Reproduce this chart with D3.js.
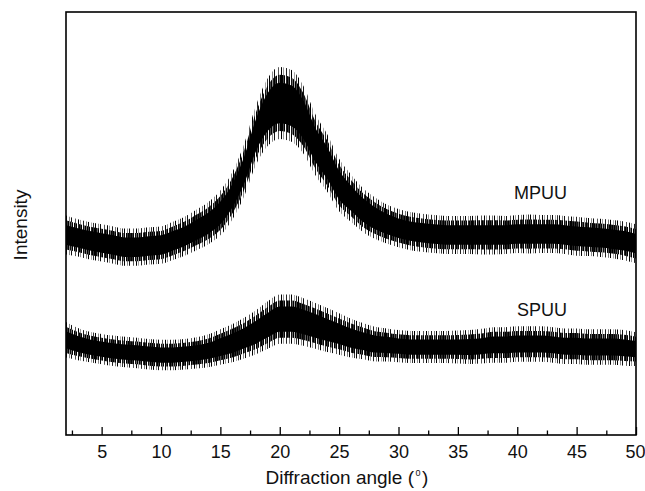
<!DOCTYPE html>
<html>
<head>
<meta charset="utf-8">
<script src="https://cdn.jsdelivr.net/npm/d3@7"></script>
<style>
  html, body { margin: 0; padding: 0; background: #fff; }
  svg { display: block; }
</style>
</head>
<body>
<svg id="chart"></svg>
<script>
// diffraction angle grid (degrees)
const angles = [2, 3, 4, 5, 6, 7, 8, 9, 10, 11, 12, 13, 14, 15, 16, 17, 18, 19, 20, 21, 22, 23, 24, 25, 26,
  27, 28, 29, 30, 31, 32, 33, 34, 35, 36, 37, 38, 39, 40, 41, 42, 43, 44, 45, 46, 47, 48, 49, 50];

// MPUU: mean intensity (a.u.), half-width of the solid noise band, half-width of the spikes
const mpuuMid = [47.3, 46.6, 45.9, 45.4, 44.9, 44.4, 44.4, 44.7, 44.9, 45.9, 47.0, 48.5, 50.1, 52.5, 56.5,
  62.6, 70.9, 76.4, 78.5, 77.8, 74.5, 68.6, 64.3, 59.1, 56.0, 53.2, 51.3, 49.9, 48.9, 48.2, 47.8, 47.5, 47.3,
  47.3, 47.3, 47.3, 47.3, 47.3, 47.5, 47.5, 47.5, 47.5, 47.3, 47.0, 46.8, 46.6, 46.3, 45.9, 45.2];
const mpuuBand = [2.3, 2.3, 2.3, 2.3, 2.3, 2.3, 2.3, 2.3, 2.3, 2.3, 2.3, 2.4, 2.5, 2.7, 2.8, 3.2, 3.8, 4.5,
  4.8, 4.8, 4.5, 4.0, 3.8, 3.4, 3.0, 2.8, 2.6, 2.4, 2.3, 2.3, 2.3, 2.3, 2.3, 2.3, 2.3, 2.3, 2.3, 2.3, 2.3,
  2.3, 2.3, 2.3, 2.3, 2.3, 2.3, 2.3, 2.3, 2.3, 2.3];
const mpuuSpike = [4.6, 4.4, 4.4, 4.4, 4.4, 4.4, 4.4, 4.4, 4.4, 4.5, 4.6, 4.8, 5.0, 5.3, 5.6, 6.2, 7.0, 8.0,
  8.5, 8.5, 8.0, 7.2, 6.8, 6.2, 5.6, 5.2, 4.9, 4.6, 4.5, 4.5, 4.5, 4.5, 4.5, 4.5, 4.5, 4.6, 4.6, 4.5, 4.5,
  4.6, 4.5, 4.5, 4.5, 4.6, 4.5, 4.5, 4.5, 4.6, 4.6];

// SPUU
const spuuMid = [22.5, 21.5, 20.8, 20.3, 19.9, 19.6, 19.4, 19.1, 18.9, 18.9, 19.1, 19.4, 19.9, 20.8, 21.7,
  22.9, 24.3, 26.0, 27.4, 27.4, 26.7, 25.8, 24.8, 23.9, 22.9, 22.2, 21.5, 21.3, 21.0, 20.8, 20.8, 20.8, 20.8,
  20.8, 20.8, 21.0, 21.3, 21.3, 21.5, 21.5, 21.5, 21.3, 21.0, 21.0, 20.8, 20.8, 20.8, 20.6, 20.3];
const spuuBand = [2.0, 1.9, 1.8, 1.8, 1.8, 1.8, 1.8, 1.8, 1.8, 1.8, 1.8, 1.8, 1.9, 2.1, 2.3, 2.4, 2.7, 2.9,
  3.0, 3.0, 2.9, 2.8, 2.6, 2.4, 2.3, 2.1, 2.0, 1.9, 1.8, 1.8, 1.8, 1.8, 1.8, 1.8, 1.9, 1.9, 2.0, 2.0, 2.0,
  2.0, 2.0, 2.0, 2.0, 2.0, 2.0, 2.0, 2.0, 2.0, 1.9];
const spuuSpike = [4.2, 3.8, 3.6, 3.6, 3.6, 3.6, 3.6, 3.6, 3.6, 3.6, 3.6, 3.7, 3.9, 4.2, 4.5, 4.8, 5.2, 5.6,
  5.8, 5.8, 5.6, 5.4, 5.2, 4.9, 4.6, 4.3, 4.1, 3.9, 3.8, 3.8, 3.8, 3.8, 3.8, 3.9, 4.0, 4.1, 4.2, 4.2, 4.2,
  4.2, 4.2, 4.2, 4.2, 4.2, 4.2, 4.2, 4.2, 4.2, 4.0];

const majorTicks = [5, 10, 15, 20, 25, 30, 35, 40, 45, 50];
const minorTicks = [2.5, 7.5, 12.5, 17.5, 22.5, 27.5, 32.5, 37.5, 42.5, 47.5];

const font = '"Liberation Sans", Arial, sans-serif';
const width = 645;
const height = 491;
const margin = { top: 12, right: 9, bottom: 56, left: 66 };
const innerWidth = width - margin.left - margin.right;
const innerHeight = height - margin.top - margin.bottom;

const svg = d3.select('#chart')
  .attr('width', width)
  .attr('height', height)
  .attr('viewBox', `0 0 ${width} ${height}`);

// irregular vertical hatching stands in for the spiky counting noise
const defs = svg.append('defs');
function hatch(id, strokes, w) {
  const p = defs.append('pattern')
    .attr('id', id)
    .attr('patternUnits', 'userSpaceOnUse')
    .attr('width', w)
    .attr('height', 20);
  strokes.forEach(([x, c]) => {
    p.append('rect').attr('x', x).attr('y', 0).attr('width', 1).attr('height', 20).attr('fill', c);
  });
}
hatch('fringe', [[0, '#000'], [1, '#333'], [2, '#000'], [4, '#111'], [5, '#666'], [6, '#000'],
  [8, '#000'], [9, '#444'], [10, '#000'], [12, '#222']], 13);
hatch('spikes', [[0, '#000'], [3, '#8a8a8a'], [5, '#111'], [9, '#555'], [12, '#000'], [14, '#999'],
  [17, '#222'], [20, '#777'], [22, '#000'], [25, '#aaa'], [27, '#333']], 29);

const g = svg.append('g').attr('transform', `translate(${margin.left}, ${margin.top})`);

const xScale = d3.scaleLinear().domain([2, 50]).range([0, innerWidth]);
const yScale = d3.scaleLinear().domain([0, 100]).range([innerHeight, 0]);

function drawPattern(mid, band, spike) {
  const rows = angles.map((a, i) => ({ a, m: mid[i], b: band[i], s: spike[i] }));
  const area = (half) => d3.area()
    .x((d) => xScale(d.a))
    .y0((d) => yScale(d.m - half(d)))
    .y1((d) => yScale(d.m + half(d)))
    .curve(d3.curveMonotoneX);

  g.append('path').datum(rows).attr('d', area((d) => d.s)).attr('fill', 'url(#spikes)');
  g.append('path').datum(rows).attr('d', area((d) => (d.b + d.s) / 2)).attr('fill', 'url(#fringe)');
  g.append('path').datum(rows).attr('d', area((d) => d.b)).attr('fill', '#000');
}

drawPattern(mpuuMid, mpuuBand, mpuuSpike);
drawPattern(spuuMid, spuuBand, spuuSpike);

// frame
g.append('rect')
  .attr('x', 0).attr('y', 0)
  .attr('width', innerWidth).attr('height', innerHeight)
  .attr('fill', 'none').attr('stroke', '#000').attr('stroke-width', 1.6);

// bottom axis, ticks pointing inward
const minorAxis = g.append('g')
  .attr('transform', `translate(0, ${innerHeight})`)
  .call(d3.axisBottom(xScale).tickValues(minorTicks).tickSize(-4.5).tickFormat(''));
minorAxis.select('.domain').remove();
minorAxis.selectAll('text').remove();
minorAxis.selectAll('line').attr('stroke', '#000').attr('stroke-width', 1.3);

const xAxisGroup = g.append('g')
  .attr('transform', `translate(0, ${innerHeight})`)
  .call(d3.axisBottom(xScale).tickValues(majorTicks).tickSize(-8).tickPadding(10));
xAxisGroup.select('.domain').remove();
xAxisGroup.selectAll('line').attr('stroke', '#000').attr('stroke-width', 1.3);
xAxisGroup.selectAll('text')
  .attr('fill', '#111')
  .style('font-family', font)
  .style('font-size', '18px');
// the last label sits against the page edge
xAxisGroup.selectAll('.tick')
  .filter((d) => d === 50)
  .select('text')
  .attr('text-anchor', 'end')
  .attr('x', 9);

// axis titles
svg.append('text')
  .attr('x', 414)
  .attr('y', 484)
  .attr('text-anchor', 'end')
  .attr('fill', '#111')
  .style('font-family', font)
  .style('font-size', '19px')
  .text('Diffraction angle (');
svg.append('text')
  .attr('x', 418)
  .attr('y', 476)
  .attr('text-anchor', 'middle')
  .attr('fill', '#111')
  .style('font-family', font)
  .style('font-size', '9px')
  .text('0');
svg.append('text')
  .attr('x', 422)
  .attr('y', 484)
  .attr('fill', '#111')
  .style('font-family', font)
  .style('font-size', '19px')
  .text(')');

svg.append('text')
  .attr('transform', 'translate(27, 225) rotate(-90)')
  .attr('text-anchor', 'middle')
  .attr('fill', '#111')
  .style('font-family', font)
  .style('font-size', '19px')
  .text('Intensity');

// curve labels
svg.append('text').attr('x', 514).attr('y', 199).attr('fill', '#111')
  .style('font-family', font).style('font-size', '18px').text('MPUU');
svg.append('text').attr('x', 517).attr('y', 316).attr('fill', '#111')
  .style('font-family', font).style('font-size', '18px').text('SPUU');
</script>
</body>
</html>
